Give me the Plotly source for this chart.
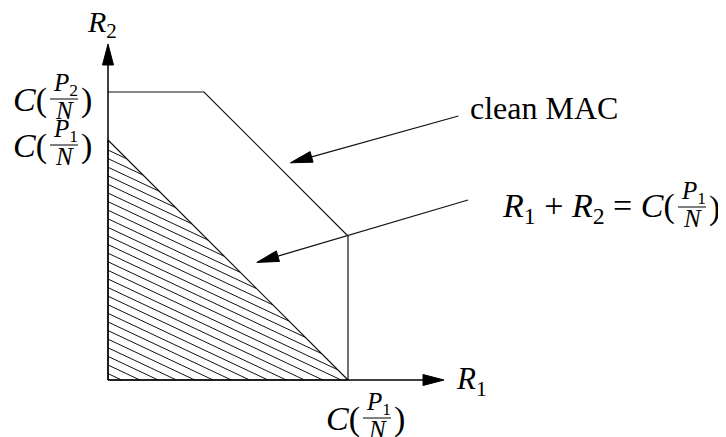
import numpy as np
import plotly.graph_objects as go

# capacity values (rate units, C(P1/N) = 1)
c1 = 1.0          # C(P1/N)
c2 = 1.2          # C(P2/N)
c_sum = 1.6       # sum-rate of the clean MAC

# clean MAC region boundary (upper-right part)
mac_r1 = [0.0, c_sum - c2, c1, c1]
mac_r2 = [c2, c2, c_sum - c1, 0.0]

# hatched region R1 + R2 <= C(P1/N)
tri_r1 = [0.0, 0.0, c1, 0.0]
tri_r2 = [0.0, c1, 0.0, 0.0]

axis_len = 1.4

# pointer arrows: tail -> tip
ptr_tail_r1 = [1.46, 1.50]
ptr_tail_r2 = [1.10, 0.75]
ptr_tip_r1 = [0.76, 0.62]
ptr_tip_r2 = [0.905, 0.49]

# the page body has an 8px margin, so the figure is 8px smaller
W, H = 718, 429
PX = 240.0          # pixels per rate unit
OX, OY = 100, 372   # origin in figure pixels

FONT = "Liberation Serif"
INK = "#111111"


def head(tip_x, tip_y, tail_x, tail_y, length=21, width=11):
    dx, dy = tip_x - tail_x, tip_y - tail_y
    d = np.hypot(dx, dy)
    ux, uy = dx / d, dy / d
    L, hw = length / PX, width / 2 / PX
    bx, by = tip_x - ux * L, tip_y - uy * L
    nx, ny = -uy, ux
    return ([tip_x, bx + nx * hw, bx - nx * hw, tip_x],
            [tip_y, by + ny * hw, by - ny * hw, tip_y])


fig = go.Figure()

# hatch lines inside the triangle
slope = 0.47
gap = 8.6 / PX
hx, hy = [], []
c = c1 - 10 / PX
while c > 0:
    x_end = min((c1 - c) / (1 - slope), c / slope)
    hx += [0, x_end, None]
    hy += [c, c - slope * x_end, None]
    c -= gap
fig.add_trace(go.Scatter(x=hx, y=hy, mode="lines",
                         line=dict(color=INK, width=1)))

fig.add_trace(go.Scatter(x=tri_r1, y=tri_r2, mode="lines",
                         line=dict(color=INK, width=1.2)))
fig.add_trace(go.Scatter(x=mac_r1, y=mac_r2, mode="lines",
                         line=dict(color=INK, width=1.2)))

# axes with arrowheads
fig.add_trace(go.Scatter(x=[0, 0, None, 0, axis_len - 10 / PX],
                         y=[axis_len - 10 / PX, 0, None, 0, 0], mode="lines",
                         line=dict(color="black", width=1.5)))
for hxy in [head(0, axis_len, 0, 0), head(axis_len, 0, 0, 0)]:
    fig.add_trace(go.Scatter(x=hxy[0], y=hxy[1], mode="lines", fill="toself",
                             fillcolor="black", line=dict(color="black", width=1)))

# pointer arrows
for i in range(2):
    tx, ty = ptr_tip_r1[i], ptr_tip_r2[i]
    sx, sy = ptr_tail_r1[i], ptr_tail_r2[i]
    hx_, hy_ = head(tx, ty, sx, sy, 22, 11)
    bx, by = (hx_[1] + hx_[2]) / 2, (hy_[1] + hy_[2]) / 2
    fig.add_trace(go.Scatter(x=[sx, bx], y=[sy, by], mode="lines",
                             line=dict(color=INK, width=1.2)))
    fig.add_trace(go.Scatter(x=hx_, y=hy_, mode="lines", fill="toself",
                             fillcolor="black", line=dict(color="black", width=1)))

fig.update_traces(showlegend=False, hoverinfo="skip")


def txt(x, y, text, dx, dy, size, xanchor="center", yanchor="middle"):
    fig.add_annotation(x=x, y=y, xref="x", yref="y", text=text, showarrow=False,
                       xshift=dx, yshift=-dy, xanchor=xanchor, yanchor=yanchor,
                       borderpad=0,
                       font=dict(family=FONT, size=size, color="black"))


def frac_label(x, y, sub, bx, by, prefix="<i>C</i>(", size=34):
    # bx, by: pixel offset of the fraction bar centre from the anchor point
    half = 14
    txt(x, y, prefix, bx - half - 2, by + 1, size, "right")
    txt(x, y, "<i>P</i><sub>%s</sub>" % sub, bx + 1, by + 2, 25, yanchor="bottom")
    txt(x, y, "<i>N</i>", bx, by - 3, 25, yanchor="top")
    txt(x, y, ")", bx + half + 2, by + 1, size, "left")
    fig.add_shape(type="line", xref="x", yref="y", xsizemode="pixel", ysizemode="pixel",
                  xanchor=x, yanchor=y, x0=bx - half, x1=bx + half, y0=-by, y1=-by,
                  line=dict(color="black", width=1))


frac_label(0, c2, "2", -44, 7)
frac_label(0, c1, "1", -44, 5)
frac_label(c1, 0, "1", 29, 38)
frac_label(ptr_tail_r1[1], ptr_tail_r2[1], "1", 224, 7,
           prefix="<i>R</i><sub>1</sub> + <i>R</i><sub>2</sub> = <i>C</i>(")

txt(0, axis_len, "<i>R</i><sub>2</sub>", -6, -20, 30)
txt(axis_len, 0, "<i>R</i><sub>1</sub>", 11, 1, 31, "left")
txt(ptr_tail_r1[0], ptr_tail_r2[0], "clean MAC", 11, -8, 32, "left")

fig.update_layout(
    width=W, height=H,
    margin=dict(l=0, r=0, t=0, b=0),
    paper_bgcolor="white", plot_bgcolor="white",
    xaxis=dict(visible=False, range=[-OX / PX, (W - OX) / PX], fixedrange=True),
    yaxis=dict(visible=False, range=[(OY - H) / PX, OY / PX], fixedrange=True),
)

fig.write_html("out.html")
